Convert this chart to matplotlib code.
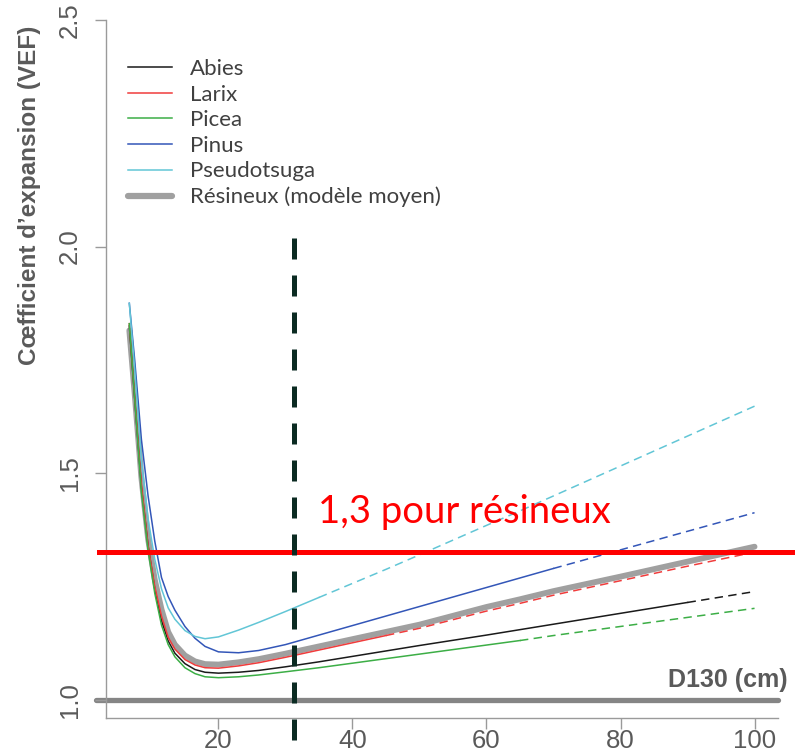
import numpy as np
import matplotlib
matplotlib.use("Agg")
import matplotlib.pyplot as plt

# diametre a 1,30 m (cm)
d130 = [6.7, 7.5, 8.5, 9.5, 10.5, 11.5, 12.5, 13.5, 15, 16.5, 18, 20, 23, 26,
        30, 35, 40, 45, 50, 60, 65, 70, 80, 90, 100]

vef_abies = [1.825, 1.665, 1.47, 1.34, 1.245, 1.175, 1.130, 1.103, 1.080, 1.067,
             1.061, 1.059, 1.061, 1.065, 1.073, 1.084, 1.096, 1.108, 1.120,
             1.143, 1.155, 1.167, 1.191, 1.215, 1.239]
vef_larix = [1.83, 1.67, 1.475, 1.34, 1.25, 1.185, 1.138, 1.112, 1.089, 1.077,
             1.071, 1.070, 1.075, 1.082, 1.094, 1.110, 1.126, 1.142, 1.158,
             1.196, 1.213, 1.231, 1.263, 1.295, 1.326]
vef_picea = [1.83, 1.665, 1.46, 1.33, 1.235, 1.165, 1.122, 1.095, 1.071, 1.058,
             1.051, 1.049, 1.051, 1.055, 1.062, 1.071, 1.081, 1.091, 1.101,
             1.121, 1.131, 1.142, 1.162, 1.182, 1.202]
vef_pinus = [1.875, 1.75, 1.575, 1.45, 1.35, 1.27, 1.228, 1.198, 1.162, 1.136,
             1.118, 1.106, 1.104, 1.109, 1.122, 1.143, 1.164, 1.185, 1.206,
             1.248, 1.269, 1.290, 1.331, 1.372, 1.413]
vef_pseudotsuga = [1.875, 1.73, 1.53, 1.40, 1.31, 1.245, 1.203, 1.178, 1.153,
                   1.140, 1.135, 1.139, 1.154, 1.171, 1.195, 1.226, 1.257, 1.288,
                   1.320, 1.385, 1.417, 1.450, 1.516, 1.582, 1.648]
vef_resineux = [1.815, 1.675, 1.49, 1.355, 1.265, 1.200, 1.150, 1.122, 1.098,
                1.085, 1.079, 1.078, 1.083, 1.090, 1.102, 1.118, 1.134, 1.150,
                1.166, 1.205, 1.222, 1.240, 1.272, 1.305, 1.338]

especes = ["Abies", "Larix", "Picea", "Pinus", "Pseudotsuga"]
series = [vef_abies, vef_larix, vef_picea, vef_pinus, vef_pseudotsuga]
couleurs = ["#1a1a1a", "#f03c3c", "#3cae46", "#3356b8", "#62c6d6"]
# au-dela de ce diametre le modele est extrapole (trait pointille)
d_max_obs = [90, 45, 65, 70, 35]

seuil_resineux = 1.327
d_seuil = 31.3

fig = plt.figure(figsize=(7.95, 7.54), dpi=100)
ax = fig.add_axes([0.133, 0.0477, 0.8456, 0.9258])
ax.set_xlim(3.18, 103.5)
ax.set_ylim(0.96, 2.5)

gris_txt = "#5a5a5a"
for s in ["top", "right"]:
    ax.spines[s].set_visible(False)
for s in ["left", "bottom"]:
    ax.spines[s].set_color("#9a9a9a")
    ax.spines[s].set_linewidth(1.0)

ax.set_xticks([20, 40, 60, 80, 100])
ax.set_yticks([1.0, 1.5, 2.0, 2.5])
ax.set_yticklabels(["1.0", "1.5", "2.0", "2.5"], rotation=90, va="center")
ax.tick_params(axis="both", colors="#9a9a9a", length=8, width=1.0,
               labelsize=18.5, labelcolor=gris_txt,
               labelfontfamily="Liberation Sans")
ax.tick_params(axis="x", pad=0)
ax.tick_params(axis="y", pad=9)

# droite VEF = 1
ax.plot([-0.015, 1.0], [1.0, 1.0], color="#858585", lw=3.8,
        transform=ax.get_yaxis_transform(), clip_on=False,
        solid_capstyle="round", zorder=1)

d = np.array(d130)
ax.plot(d, vef_resineux, color="#a0a0a0", lw=4.2, solid_capstyle="round",
        zorder=2, label="Résineux (modèle moyen)")

handles = []
for nom, v, c, dm in zip(especes, series, couleurs, d_max_obs):
    v = np.array(v)
    obs = d <= dm
    ext = d >= dm
    h, = ax.plot(d[obs], v[obs], color=c, lw=1.1, zorder=3, label=nom)
    ax.plot(d[ext], v[ext], color=c, lw=1.1, ls=(0, (5.5, 3.5)), zorder=3)
    handles.append(h)

leg_gris = plt.Line2D([], [], color="#a0a0a0", lw=4.5, solid_capstyle="round")
ax.legend(handles + [leg_gris], especes + ["Résineux (modèle moyen)"],
          loc="upper left", bbox_to_anchor=(0.0325, 0.944), frameon=False,
          borderpad=0, borderaxespad=0, handlelength=2.0, handletextpad=0.8,
          labelspacing=0.25, labelcolor="#404040",
          prop={"family": "Lato", "size": 16})

# seuil forfaitaire
ax.plot([-0.01, 1.03], [seuil_resineux, seuil_resineux], color="#ff0000",
        lw=3.6, transform=ax.get_yaxis_transform(), clip_on=False, zorder=4)
ax.text(34.9, 1.391, "1,3 pour résineux", color="#ff0000", fontsize=27.5,
        family="Lato", va="baseline", ha="left")

ax.plot([d_seuil, d_seuil], [2.02, 0.85], color="#0b2b22", lw=3.6,
        ls=(0, (4.2, 3.2)), clip_on=False, zorder=5)

ax.text(104.9, 1.029, "D130 (cm)", fontsize=18, fontweight="bold",
        color=gris_txt, ha="right", va="baseline", family="Liberation Sans")
fig.text(30 / 795, 1 - 195 / 754, "Cœfficient d’expansion (VEF)",
         rotation=90, ha="center", va="center", fontsize=17.5,
         fontweight="bold", color=gris_txt, family="Liberation Sans")

fig.savefig("out.png", dpi=100)
